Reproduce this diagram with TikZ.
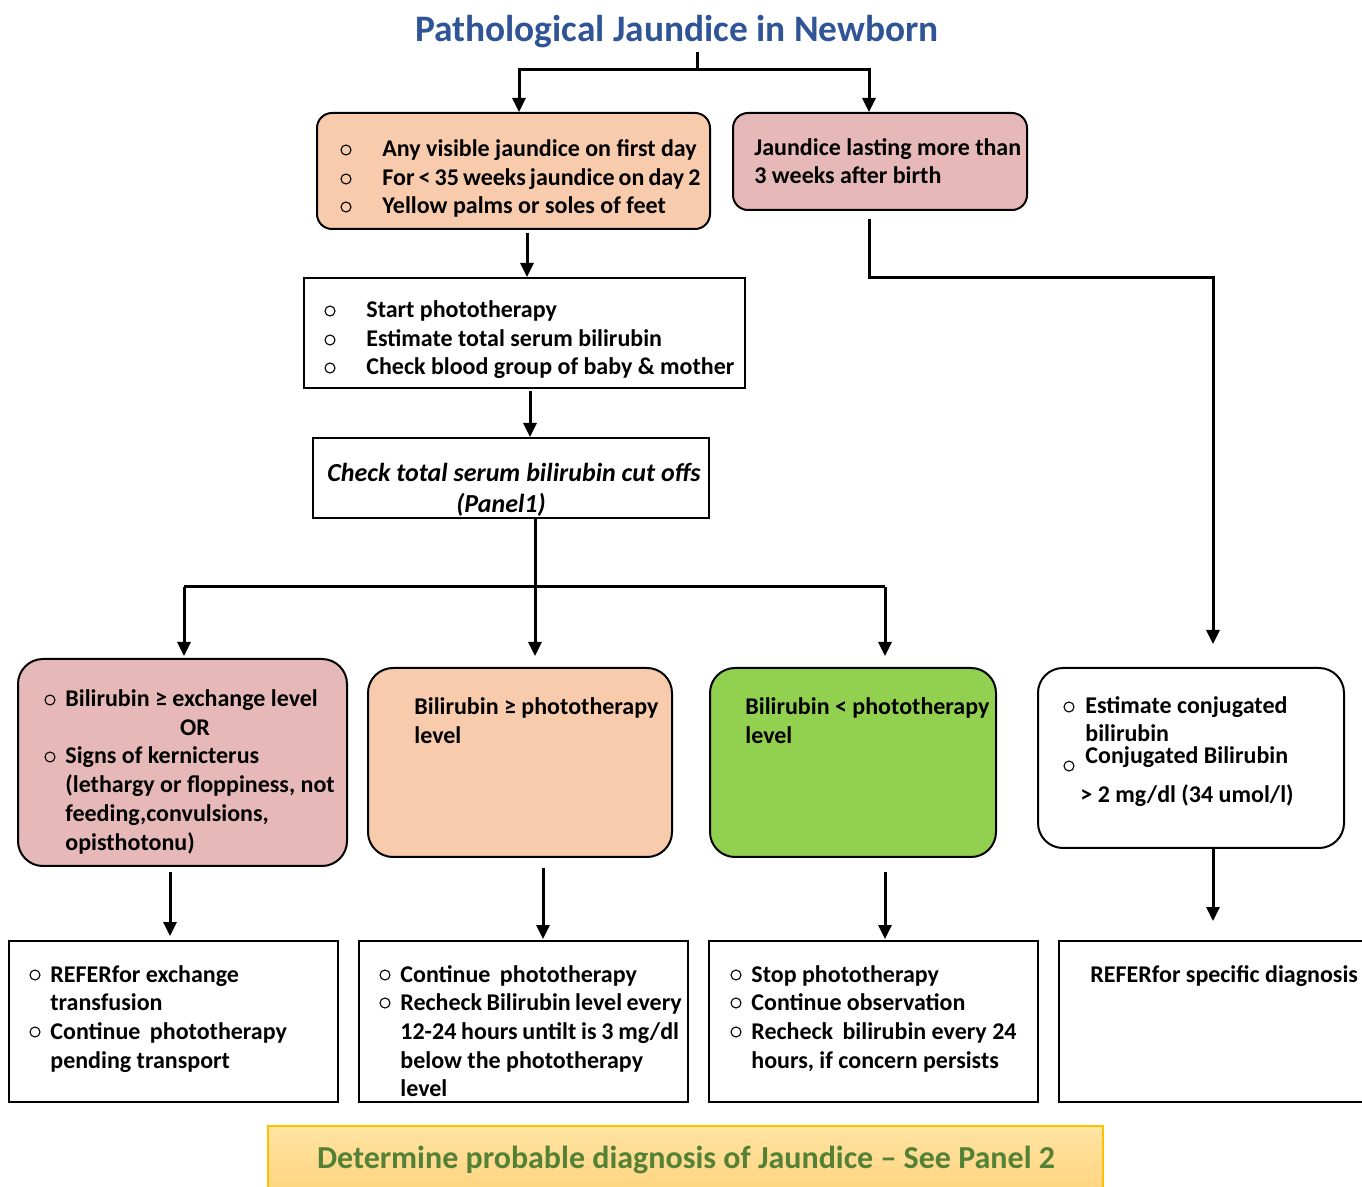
\documentclass[tikz,border=0pt]{standalone}
\usepackage{fontspec}
\setmainfont{Carlito}
\usetikzlibrary{arrows.meta,fit,calc}
\definecolor{peach}{HTML}{F8CBAD}
\definecolor{rose}{HTML}{E6B9B8}
\definecolor{leaf}{HTML}{92D050}
\definecolor{titleblue}{HTML}{2F5597}
\definecolor{bannergreen}{HTML}{538135}
\definecolor{bannertop}{HTML}{FFE4A2}
\definecolor{bannerbot}{HTML}{FFD27C}
\definecolor{bannerline}{HTML}{FFC000}
% one line of box text, placed by its baseline
\newcommand\tline[4]{\node[txt] (#1) at (#2,#3) {#4};}
% hollow round bullet
\newcommand\bull[3]{\node[bul] (#1) at (#2,#3) {};}
\begin{document}
\begin{tikzpicture}[x=0.5pt,y=-0.5pt,
  rbox/.style={draw=black,line width=1pt,inner sep=0pt,rounded corners=7.5pt},
  cbox/.style={draw=black,line width=1pt,inner sep=0pt,rounded corners=12.5pt},
  sbox/.style={draw=black,line width=1pt,inner sep=0pt},
  txt/.style={anchor=base west,inner sep=0pt,yshift=-1pt,font=\bfseries\fontsize{12}{14}\selectfont},
  ctxt/.style={anchor=base,inner sep=0pt,yshift=-1pt},
  bul/.style={circle,draw=black,line width=0.55pt,inner sep=0pt,minimum size=5pt},
  ln/.style={line width=1.5pt},
  arr/.style={line width=1.5pt,-{Triangle[length=7pt,width=6.5pt]}}]
\useasboundingbox (0,0) rectangle (1362,1187);

% title
\node[ctxt,text=titleblue,font=\bfseries\fontsize{18.7}{22}\selectfont]
  (title) at (677,40) {Pathological Jaundice in Newborn};

% ---------- top row ----------
\node[rbox,fill=peach,fit={(317,113) (710,229)}] (b1) {};
\bull{b1o1}{346}{150}\tline{b1t1}{382}{155}{Any visible jaundice on first day}
\bull{b1o2}{346}{179}\tline{b1t2}{382}{184}{\spaceskip=2.05pt plus 1pt minus 0.5pt For < 35 weeks jaundice on day 2}
\bull{b1o3}{346}{207}\tline{b1t3}{382}{212}{Yellow palms or soles of feet}

\node[rbox,fill=rose,fit={(733,113) (1027,210)}] (b2) {};
\tline{b2t1}{754}{154}{Jaundice lasting more than}
\tline{b2t2}{754}{182}{3 weeks after birth}

\node[sbox,fit={(304,278) (745,388)}] (b3) {};
\bull{b3o1}{330}{311}\tline{b3t1}{366}{316}{Start phototherapy}
\bull{b3o2}{330}{340}\tline{b3t2}{366}{345}{Estimate total serum bilirubin}
\bull{b3o3}{330}{368}\tline{b3t3}{366}{373}{Check blood group of baby \& mother}

\node[sbox,fit={(313,438) (709,518)}] (b4) {};
\node[ctxt,font=\bfseries\itshape\fontsize{13}{15}\selectfont]
  (b4t1) at (514,480) {Check total serum bilirubin cut offs};
\node[ctxt,font=\bfseries\itshape\fontsize{13}{15}\selectfont]
  (b4t2) at (501,511) {(Panel1)};

% ---------- decision row ----------
\node[cbox,fill=rose,fit={(18,659) (347,866)}] (c1) {};
\bull{c1o1}{50}{700}\tline{c1t1}{65}{705}{Bilirubin ≥ exchange level}
\node[ctxt,font=\bfseries\fontsize{12}{14}\selectfont] (c1t2) at (195,734) {OR};
\bull{c1o2}{50}{757}\tline{c1t3}{65}{762}{Signs of kernicterus}
\tline{c1t4}{65}{791}{(lethargy or floppiness, not}
\tline{c1t5}{65}{819}{feeding,convulsions,}
\tline{c1t6}{65}{848}{opisthotonu)}

\node[cbox,fill=peach,fit={(368,668) (672,857)}] (c2) {};
\tline{c2t1}{414}{713}{Bilirubin ≥ phototherapy}
\tline{c2t2}{414}{742}{level}

\node[cbox,fill=leaf,fit={(710,668) (996,857)}] (c3) {};
\tline{c3t1}{745}{713}{Bilirubin < phototherapy}
\tline{c3t2}{745}{742}{level}

\node[cbox,fill=white,fit={(1038,668) (1344,848)}] (c4) {};
\bull{c4o1}{1069}{707}\tline{c4t1}{1085}{712}{Estimate conjugated}
\tline{c4t2}{1085}{740}{bilirubin}
\bull{c4o2}{1069}{766}\tline{c4t3}{1085}{762}{Conjugated Bilirubin}
\tline{c4t4}{1080}{801}{> 2 mg/dl (34 umol/l)}

% ---------- action row ----------
\node[sbox,fit={(9,941) (338,1102)}] (d1) {};
\bull{d1o1}{35}{975}\tline{d1t1}{50}{980}{REFERfor exchange}
\tline{d1t2}{50}{1008}{transfusion}
\bull{d1o2}{35}{1032}\tline{d1t3}{50}{1037}{Continue\hspace{2pt} phototherapy}
\tline{d1t4}{50}{1066}{pending transport}

\node[sbox,fit={(359,941) (688,1102)}] (d2) {};
\bull{d2o1}{385}{975}\tline{d2t1}{400}{980}{Continue\hspace{2pt} phototherapy}
\bull{d2o2}{385}{1003}\tline{d2t2}{400}{1008}{\spaceskip=2.2pt plus 1pt minus 0.5pt Recheck Bilirubin level every}
\tline{d2t3}{400}{1037}{\spaceskip=2.4pt plus 1pt minus 0.5pt 12-24 hours untilt is 3 mg/dl}
\tline{d2t4}{400}{1066}{below the phototherapy}
\tline{d2t5}{400}{1094}{level}

\node[sbox,fit={(709,941) (1038,1102)}] (d3) {};
\bull{d3o1}{736}{975}\tline{d3t1}{751}{980}{Stop phototherapy}
\bull{d3o2}{736}{1003}\tline{d3t2}{751}{1008}{Continue observation}
\bull{d3o3}{736}{1032}\tline{d3t3}{751}{1037}{Recheck\hspace{2pt} bilirubin every 24}
\tline{d3t4}{751}{1066}{hours, if concern persists}

\node[sbox,fit={(1059,941) (1372,1102)}] (d4) {};
\tline{d4t1}{1090}{980}{REFERfor specific diagnosis}

% ---------- banner ----------
\node[inner sep=0pt,draw=bannerline,line width=0.6pt,top color=bannertop,bottom color=bannerbot,
  fit={(268,1126) (1103,1200)}] (banner) {};
\node[ctxt,text=bannergreen,font=\bfseries\fontsize{16}{18}\selectfont]
  (bannertext) at (686,1166) {Determine probable diagnosis of Jaundice – See Panel 2};

% ---------- connectors ----------
\coordinate (t0) at (697,52);
\coordinate (tl) at (519,70);
\coordinate (tr) at (869,70);
\draw[arr] (t0) |- (tl) -- (tl |- b1.north);
\draw[arr] (t0) |- (tr) -- (tr |- b2.north);

\coordinate (xa) at (527,0);
\draw[arr] ($(b1.south -| xa)+(0,3)$) -- (b3.north -| xa);
\coordinate (xb) at (530,0);
\draw[arr] ($(b3.south -| xb)+(0,2)$) -- (b4.north -| xb);

\coordinate (sm) at (535,587);
\coordinate (sl) at (184,587);
\coordinate (sr) at (885,587);
\draw[arr] (b4.south -| sm) -- ($(sm |- c2.north)+(0,-11)$);
\draw[ln] (sl) -- (sr);
\draw[arr] (sl) -- ($(sl |- c1.north)+(0,-2)$);
\draw[arr] (sr) -- ($(sr |- c3.north)+(0,-11)$);

\coordinate (xd) at (869,0);
\coordinate (ce) at (1213,278);
\draw[arr] ($(b2.south -| xd)+(0,8)$) |- (ce) -- ($(ce |- c4.north)+(0,-23)$);

\coordinate (x1) at (170,0);
\draw[arr] ($(c1.south -| x1)+(0,5)$) -- ($(d1.north -| x1)+(0,-4)$);
\coordinate (x2) at (543,0);
\draw[arr] ($(c2.south -| x2)+(0,10)$) -- ($(d2.north -| x2)+(0,-1)$);
\coordinate (x3) at (885,0);
\draw[arr] ($(c3.south -| x3)+(0,14)$) -- ($(d3.north -| x3)+(0,-1)$);
\coordinate (x4) at (1213,0);
\draw[arr] (c4.south -| x4) -- ($(d4.north -| x4)+(0,-19)$);
\end{tikzpicture}
\end{document}
